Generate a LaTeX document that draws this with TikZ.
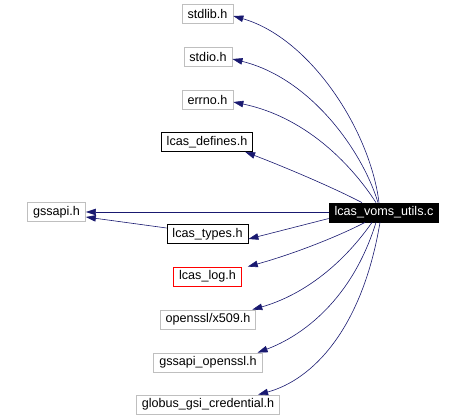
\documentclass[tikz,border=0pt]{standalone}
\usepackage{fontspec}
\setmainfont{Liberation Sans}
\usetikzlibrary{arrows.meta}
\definecolor{edgeblue}{HTML}{191970}
\definecolor{boxgray}{HTML}{BFBFBF}
\definecolor{boxred}{HTML}{FF0000}
\tikzset{
  hbox/.style={draw=boxgray, line width=0.8pt, inner xsep=5.5pt, inner ysep=0pt, minimum height=19pt, font=\fontsize{12.6}{14}\selectfont, fill=white},
  blackbox/.style={hbox, draw=black},
  redbox/.style={hbox, draw=boxred},
  mainbox/.style={hbox, draw=black, fill=black, text=white},
  dep/.style={draw=edgeblue, line width=0.6pt, -{Triangle[length=10pt,width=6.5pt]}, edgeblue}
}
\begin{document}
\begin{tikzpicture}[x=1pt,y=-1pt]
\useasboundingbox (0,0) rectangle (462,417);
\node[hbox] (stdlib) at (207.5,14) {stdlib.h};
\node[hbox] (stdio) at (208,57) {stdio.h};
\node[hbox] (errno) at (207.5,100) {errno.h};
\node[blackbox] (defines) at (207,142) {lcas\_defines.h};
\node[hbox] (gssapi) at (56.5,212) {gssapi.h};
\node[mainbox] (utils) at (384,212.5) {lcas\_voms\_utils.c};
\node[blackbox] (types) at (207.5,234) {lcas\_types.h};
\node[redbox] (log) at (207.5,276.5) {lcas\_log.h};
\node[hbox] (x509) at (208,319.5) {openssl/x509.h};
\node[hbox] (gsso) at (208,362.5) {gssapi\_openssl.h};
\node[hbox] (globus) at (208,404.5) {globus\_gsi\_credential.h};

\draw[dep] ([xshift=-5pt]utils.north) .. controls (370,130) and (310,38) .. ([yshift=-2pt]stdlib.east);
\draw[dep] ([xshift=-6pt]utils.north) .. controls (362,150) and (310,78) .. ([yshift=-2pt]stdio.east);
\draw[dep] ([xshift=-8pt]utils.north) .. controls (355,170) and (310,118) .. ([yshift=-2pt]errno.east);
\draw[dep] ([xshift=-22pt]utils.north) .. controls (330,186) and (282,166) .. ([xshift=-8pt]defines.south east);
\draw[dep] (utils.west |- gssapi.east) -- (gssapi.east);
\draw[dep] ([yshift=-6pt]utils.west) -- ([yshift=-5pt]types.east);
\draw[dep] ([yshift=6pt]types.west) -- ([yshift=-5pt]gssapi.east);
\draw[dep] ([xshift=-19pt]utils.south) .. controls (335,238) and (290,255) .. ([xshift=6pt]log.north east);
\draw[dep] ([xshift=-12pt]utils.south) .. controls (340,268) and (300,296) .. ([xshift=-4pt]x509.north east);
\draw[dep] ([xshift=-8pt]utils.south) .. controls (352,300) and (302,336) .. ([xshift=-5pt]gsso.north east);
\draw[dep] ([xshift=-4pt]utils.south) .. controls (362,330) and (312,380) .. ([xshift=-22pt]globus.north east);
\end{tikzpicture}
\end{document}
